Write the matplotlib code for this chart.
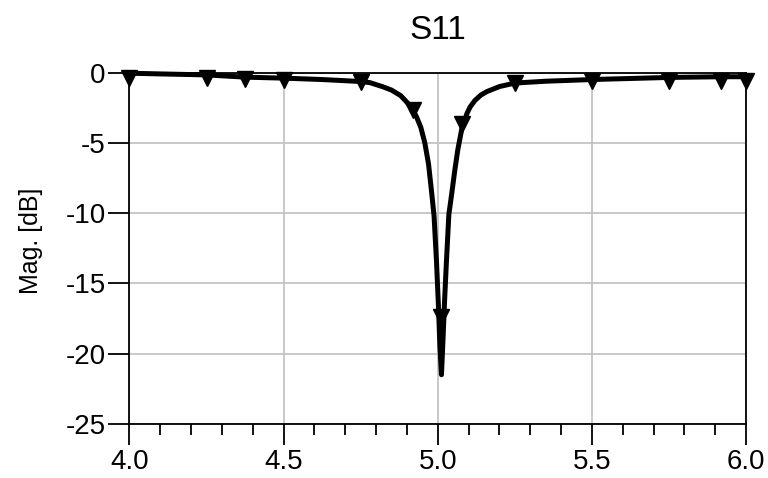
import matplotlib
matplotlib.use("Agg")
import matplotlib.pyplot as plt
from matplotlib.ticker import MultipleLocator

# S11 magnitude curve (GHz, dB)
freq = [4.000, 4.100, 4.250, 4.375, 4.500, 4.625, 4.750, 4.780, 4.820, 4.850,
        4.880, 4.910, 4.930, 4.945, 4.958, 4.970, 4.980, 4.988, 4.996, 5.002,
        5.007, 5.012, 5.017, 5.022, 5.028, 5.036, 5.046, 5.055, 5.065, 5.078,
        5.095, 5.105, 5.120, 5.140, 5.160, 5.200, 5.250, 5.350, 5.500, 5.750,
        5.920, 6.000]
mag_db = [-0.05, -0.10, -0.17, -0.33, -0.40, -0.50, -0.64, -0.72, -1.00, -1.25,
          -1.65, -2.35, -3.10, -3.90, -5.00, -6.50, -8.50, -10.2, -13.5, -16.5,
          -19.5, -21.5, -19.0, -16.3, -13.5, -10.1, -8.50, -7.00, -5.50, -4.00,
          -2.90, -2.45, -2.00, -1.60, -1.35, -1.00, -0.75, -0.62, -0.50, -0.35,
          -0.30, -0.30]

# marker positions
mark_freq = [4.0, 4.25, 4.375, 4.5, 4.75, 4.92, 5.01, 5.08, 5.25, 5.5, 5.75, 5.92, 6.0]
mark_db = [-0.38, -0.40, -0.47, -0.52, -0.65, -2.68, -17.4, -3.63, -0.76, -0.57,
           -0.57, -0.57, -0.57]

x_ticks = [4.0, 4.5, 5.0, 5.5, 6.0]
x_tick_labels = ["4.0", "4.5", "5.0", "5.5", "6.0"]
y_ticks = [-25, -20, -15, -10, -5, 0]
y_tick_labels = ["-25", "-20", "-15", "-10", "-5", "0"]

plt.rcParams["font.family"] = ["Liberation Sans", "DejaVu Sans"]

fig = plt.figure(figsize=(7.68, 4.78), dpi=100)
ax = fig.add_axes([0.1686, 0.113, 0.8028, 0.7353])

ax.plot(freq, mag_db, color="black", linewidth=3.6, solid_joinstyle="round",
        solid_capstyle="round", zorder=3, clip_on=False)
ax.plot(mark_freq, mark_db, linestyle="none", marker="v", markersize=11,
        color="black", zorder=4, clip_on=False)

ax.set_xlim(4.0, 6.0)
ax.set_ylim(-25, 0)
ax.set_xticks(x_ticks)
ax.set_xticklabels(x_tick_labels)
ax.set_yticks(y_ticks)
ax.set_yticklabels(y_tick_labels)
ax.xaxis.set_minor_locator(MultipleLocator(0.1))

ax.grid(True, which="major", color="#c4c4c4", linewidth=1.3, zorder=0)
ax.set_axisbelow(True)
for spine in ax.spines.values():
    spine.set_color("black")
    spine.set_linewidth(1.3)

ax.tick_params(axis="both", which="major", direction="out", length=15,
               width=1.3, labelsize=20, pad=3, color="black")
ax.tick_params(axis="x", which="minor", direction="out", length=8,
               width=1.3, color="black")
ax.tick_params(axis="y", which="major", pad=2)

ax.set_title("S11", fontsize=24, pad=24)
ax.set_ylabel("Mag. [dB]", fontsize=18)
ax.yaxis.set_label_coords(-0.14, 0.52)

fig.savefig("out.png", dpi=100)
